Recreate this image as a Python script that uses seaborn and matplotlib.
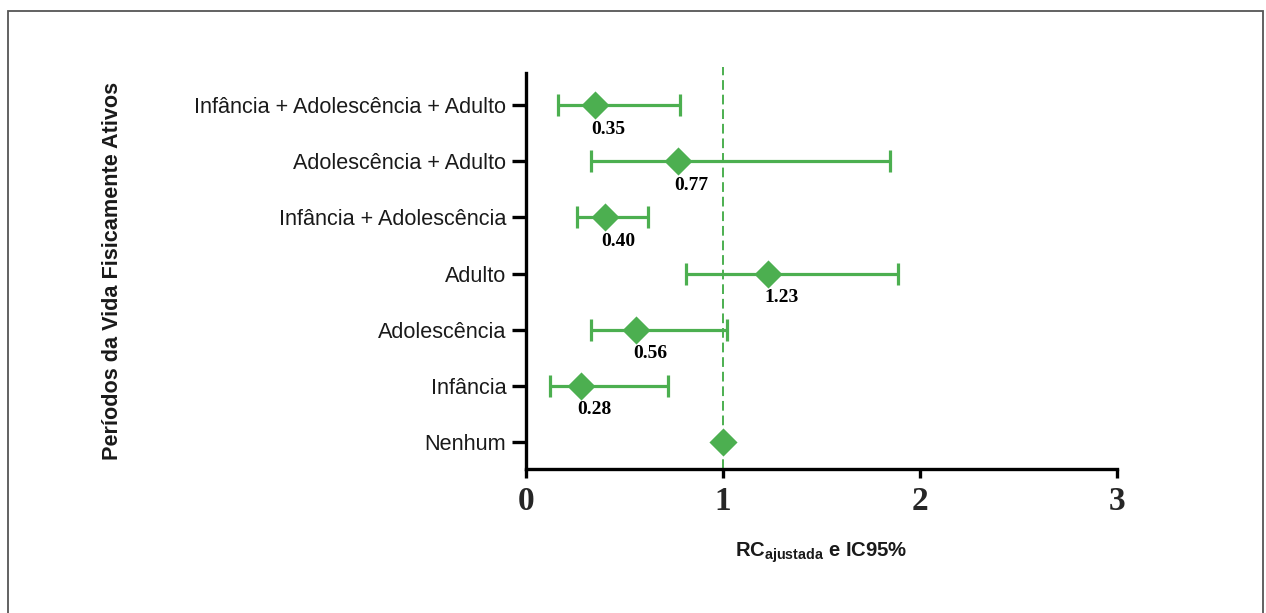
import numpy as np
import pandas as pd
import matplotlib
matplotlib.use("Agg")
import matplotlib.pyplot as plt
import seaborn as sns
from matplotlib import font_manager
from matplotlib.patches import Rectangle

# ---------------- data ----------------
categories = ["Infância + Adolescência + Adulto", "Adolescência + Adulto",
              "Infância + Adolescência", "Adulto", "Adolescência", "Infância", "Nenhum"]
odds_ratio = [0.35, 0.77, 0.40, 1.23, 0.56, 0.28, 1.00]
ci_lower = [0.16, 0.33, 0.26, 0.81, 0.33, 0.12, np.nan]
ci_upper = [0.78, 1.85, 0.62, 1.89, 1.02, 0.72, np.nan]
value_labels = ["0.35", "0.77", "0.40", "1.23", "0.56", "0.28", ""]
x_ticks = [0, 1, 2, 3]
x_tick_labels = ["0", "1", "2", "3"]
y_title = "Períodos da Vida Fisicamente Ativos"
x_title = "RC$_{ajustada}$ e IC95%"

GREEN = "#4caf50"

sns.set_theme(style="ticks")
names = {f.name for f in font_manager.fontManager.ttflist}
if "Liberation Sans Narrow" in names:
    SANS, TICK_FS = "Liberation Sans Narrow", 18.2
else:
    SANS, TICK_FS = "Liberation Sans", 15.6
SERIF = "Liberation Serif" if "Liberation Serif" in names else "DejaVu Serif"
plt.rcParams["font.family"] = [SANS, "DejaVu Sans"]
plt.rcParams["mathtext.fontset"] = "custom"
plt.rcParams["mathtext.it"] = f"{SANS}:bold"
plt.rcParams["mathtext.rm"] = f"{SANS}:bold"
plt.rcParams["mathtext.bf"] = f"{SANS}:bold"

n = len(categories)
pos = [n - 1 - i for i in range(n)]
df = pd.DataFrame({"cat": categories, "rc": odds_ratio, "lo": ci_lower,
                   "hi": ci_upper, "pos": pos, "lab": value_labels})

fig = plt.figure(figsize=(12.66, 6.13), dpi=100)
ax = fig.add_axes([526 / 1266, 1 - 469 / 613, (1117 - 526) / 1266, (469 - 73) / 613])

# reference line
ax.axvline(1, ymin=0, ymax=1.015, color=GREEN, lw=1.4, ls=(0, (5, 2.5)),
           clip_on=False, zorder=1)

# CI bars
ci = df.dropna(subset=["lo", "hi"])
ax.errorbar(ci["rc"], ci["pos"], xerr=[ci["rc"] - ci["lo"], ci["hi"] - ci["rc"]],
            fmt="none", ecolor=GREEN, elinewidth=2.3, capsize=8.2, capthick=2.3, zorder=2)

# point estimates
sns.scatterplot(data=df, x="rc", y="pos", marker="D", s=205, color=GREEN,
                edgecolor=GREEN, linewidth=0, zorder=3, ax=ax, legend=False)

for _, r in df.iterrows():
    if r["lab"]:
        ax.annotate(r["lab"], xy=(r["rc"], r["pos"]), xytext=(-2.5, -17.3),
                    textcoords="offset points", ha="left", va="center",
                    fontfamily=SERIF, fontweight="bold", fontsize=14, color="black")

ax.set_xlim(0, 3)
ax.set_ylim(-0.48, n - 1 + 0.57)
ax.set_yticks(pos, categories)
ax.set_xticks(x_ticks, x_tick_labels)
for lab in ax.get_xticklabels():
    lab.set_fontfamily(SERIF)
    lab.set_fontweight("bold")
    lab.set_fontsize(24)
for lab in ax.get_yticklabels():
    lab.set_fontsize(TICK_FS)
    lab.set_color("#1a1a1a")

sns.despine(ax=ax)
for s in ["left", "bottom"]:
    ax.spines[s].set_linewidth(2.4)
    ax.spines[s].set_color("black")
ax.tick_params(axis="y", length=10, width=2.4, pad=4.3, color="black")
ax.tick_params(axis="x", length=6.5, width=2.4, pad=6, color="black")

ax.set_xlabel(x_title, fontsize=TICK_FS - 1, fontweight="bold", color="#1a1a1a")
ax.xaxis.label.set_va("center")
ax.xaxis.set_label_coords(0.5, -0.212)
ax.set_ylabel(y_title, fontsize=TICK_FS, fontweight="bold", color="#1a1a1a")
ax.yaxis.label.set_va("center")
ax.yaxis.set_label_coords(-0.699, 0.5)

fig.add_artist(Rectangle((8.3 / 1266, -0.05), (1263.3 - 8.3) / 1266,
                         (613 - 10.7) / 613 + 0.05, transform=fig.transFigure,
                         fill=False, edgecolor="#555555", lw=1.3))

fig.savefig("out.png", dpi=100)
